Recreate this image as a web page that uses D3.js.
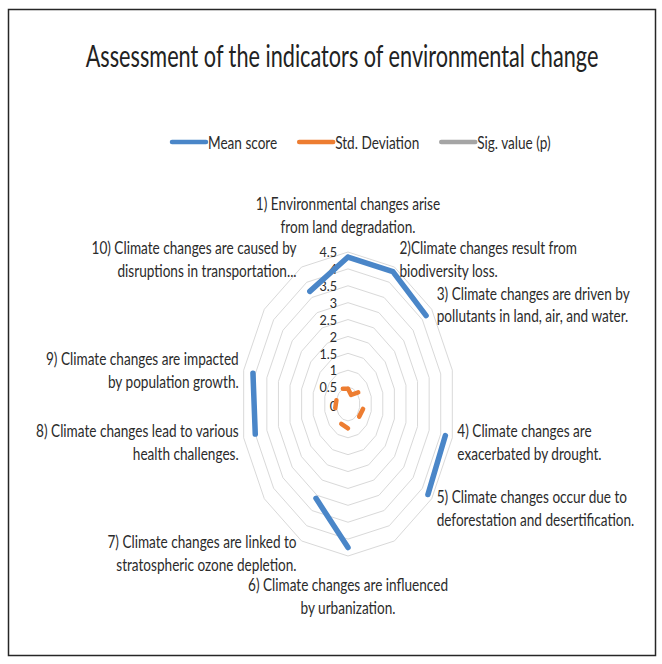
<!DOCTYPE html>
<html>
<head>
<meta charset="utf-8">
<script src="https://cdn.jsdelivr.net/npm/d3@7"></script>
<style>
  html, body { margin: 0; padding: 0; background: #fff; }
  svg { display: block; font-family: Lato, "Open Sans", sans-serif; }
</style>
</head>
<body>
<svg id="chart" width="662" height="664"></svg>
<script>
// Radar categories (blank slots leave gaps in the web)
const categories = [
  "1)  Environmental changes arise\nfrom land degradation.",
  "2)Climate changes result from\nbiodiversity loss.",
  "3) Climate changes are driven by\npollutants in land, air, and water.",
  "",
  "4) Climate changes are\nexacerbated by drought.",
  "5) Climate changes occur due to\ndeforestation and desertification.",
  "",
  "6) Climate changes are influenced\nby urbanization.",
  "7) Climate changes are linked to\nstratospheric ozone depletion.",
  "",
  "8) Climate changes lead to various\nhealth challenges.",
  "9) Climate changes are impacted\nby population growth.",
  "",
  "10) Climate changes are caused by\ndisruptions in transportation..."
];

const meanScore     = [4.35, 4.35, 4.2, null, 4.2, 4.3, null, 4.25, 3.1, null, 4.0, 4.1, null, 3.7];
const stdDeviation  = [0.45, 0.3, 0.55, null, 0.65, 0.6, null, 0.72, 0.65, null, 0.55, 0.5, null, 0.5];
const sigValue      = [0, 0, 0, null, 0, 0, null, 0, 0, null, 0, 0, null, 0];

const seriesNames  = ["Mean score", "Std. Deviation", "Sig. value (p)"];
const seriesColors = ["#4a86c8", "#ed7d31", "#a5a5a5"];
const tickValues   = [0, 0.5, 1, 1.5, 2, 2.5, 3, 3.5, 4, 4.5];
const titleText    = "Assessment of the indicators of environmental change";

const svg = d3.select("#chart");
const textColor = "#2b2b2b";
const textSX = 0.8;   // condensed lettering

// frame
svg.append("rect")
  .attr("x", 8.5).attr("y", 9.5).attr("width", 647).attr("height", 646)
  .attr("fill", "#fff").attr("stroke", "#262626").attr("stroke-width", 1.5);

// title, fitted to its line width
const title = svg.append("text")
  .attr("text-anchor", "middle")
  .attr("font-size", 30)
  .attr("fill", "#222")
  .text(titleText);
const titleSX = 513 / title.node().getComputedTextLength();
title.attr("transform", `translate(342,67) scale(${titleSX},1)`);

// geometry
const cx = 348, cy = 404, kx = 0.704;
const r = d3.scaleLinear().domain([0, 4.5]).range([0, 152]);
const angle = d3.scaleLinear().domain([0, categories.length]).range([0, 2 * Math.PI]);
const px = (i, v) => cx + r(v) * Math.sin(angle(i)) * kx;
const py = (i, v) => cy - r(v) * Math.cos(angle(i));

// grid rings
const idx = d3.range(categories.length);
const ring = d3.line().curve(d3.curveLinearClosed);
svg.append("g").selectAll("path")
  .data(tickValues.filter(t => t > 0))
  .join("path")
  .attr("d", t => ring(idx.map(i => [px(i, t), py(i, t)])))
  .attr("fill", "none")
  .attr("stroke", "#d9d9d9")
  .attr("stroke-width", 1);

// value axis labels
svg.append("g").selectAll("text")
  .data(tickValues)
  .join("text")
  .attr("text-anchor", "end")
  .attr("dominant-baseline", "central")
  .attr("font-size", 14)
  .attr("fill", textColor)
  .attr("transform", t => `translate(${cx - 11},${r(t) === 0 ? cy + 2 : cy - r(t)}) scale(0.9,1)`)
  .text(t => d3.format("")(t));

// series
const series = [meanScore, stdDeviation, sigValue];
const widths = [5.5, 4.5, 4];
const lineGen = d3.line()
  .defined(d => d.v != null)
  .x(d => px(d.i, d.v))
  .y(d => py(d.i, d.v));
const plot = svg.append("g");
[2, 1, 0].forEach(k => {
  const vals = series[k];
  const pts = idx.concat([0]).map(i => ({ i, v: vals[i] }));
  plot.append("path")
    .attr("d", lineGen(pts))
    .attr("fill", "none")
    .attr("stroke", seriesColors[k])
    .attr("stroke-width", widths[k])
    .attr("stroke-linecap", k === 2 ? "butt" : "round")
    .attr("stroke-linejoin", "round");
});

// category labels
const labelG = svg.append("g").attr("font-size", 17).attr("fill", textColor);
categories.forEach((lab, i) => {
  if (!lab) return;
  const lines = lab.split("\n");
  const a = angle(i), s = Math.sin(a), c = Math.cos(a);
  const vx = px(i, 4.5), vy = py(i, 4.5);
  const lh = 23;
  let anchor, x, yc;
  if (Math.abs(s) < 0.1) {
    anchor = "middle"; x = vx;
    yc = c > 0 ? vy - 14 - lh * lines.length / 2 : vy + 17 + lh * lines.length / 2;
  } else {
    anchor = s > 0 ? "start" : "end";
    x = vx + (s > 0 ? 5 : -5);
    yc = vy - c * 11 + 2;
  }
  const t = labelG.append("text")
    .attr("text-anchor", anchor)
    .attr("transform", `translate(${x},${yc}) scale(${textSX},1)`);
  lines.forEach((ln, j) => {
    t.append("tspan")
      .attr("x", 0)
      .attr("y", (j - (lines.length - 1) / 2) * lh)
      .attr("dominant-baseline", "central")
      .text(ln);
  });
});

// legend
const legend = svg.append("g").attr("font-size", 17).attr("fill", textColor);
let lx = 172;
const ly = 142;
seriesNames.forEach((name, k) => {
  legend.append("line")
    .attr("x1", lx).attr("x2", lx + 34)
    .attr("y1", ly).attr("y2", ly)
    .attr("stroke", seriesColors[k])
    .attr("stroke-width", 4.5)
    .attr("stroke-linecap", "round");
  const t = legend.append("text")
    .attr("dominant-baseline", "central")
    .attr("transform", `translate(${lx + 36},${ly}) scale(${textSX},1)`)
    .text(name);
  const w = t.node().getComputedTextLength() * textSX;
  lx += 36 + w + 22;
});
</script>
</body>
</html>
